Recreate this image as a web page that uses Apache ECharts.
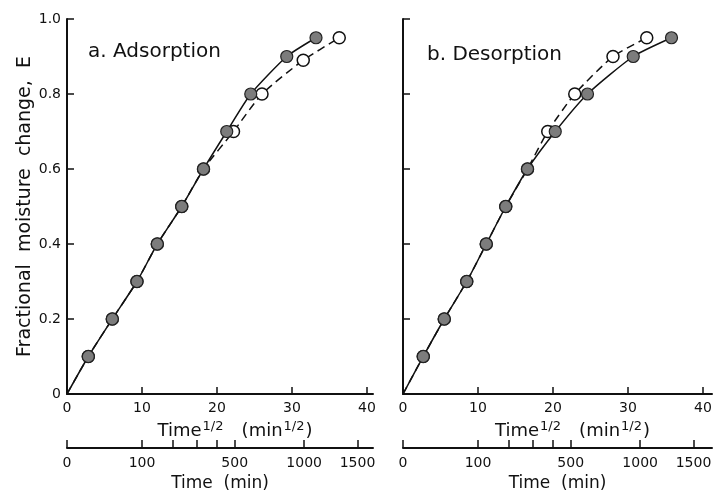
<!DOCTYPE html>
<html><head><meta charset="utf-8">
<script src="https://cdn.jsdelivr.net/npm/echarts@6/dist/echarts.min.js"></script>
<style>html,body{margin:0;padding:0;background:#fff}#c{width:719px;height:493px}</style>
</head><body><div id="c"></div>
<script>
// Data (x = Time^1/2 in min^1/2, y = fractional moisture change E)
const adsFilledT = [0, 2.84, 6.04, 9.33, 12.04, 15.3, 18.2, 21.3, 24.5, 29.3, 33.2];
const adsFilledE = [0, 0.10, 0.20, 0.30, 0.40, 0.50, 0.60, 0.70, 0.80, 0.90, 0.95];
const adsOpenT = [0, 2.84, 6.04, 9.33, 12.04, 15.3, 18.2, 22.2, 26.0, 31.5, 36.3];
const adsOpenE = [0, 0.10, 0.20, 0.30, 0.40, 0.50, 0.60, 0.70, 0.80, 0.89, 0.95];
const desFilledT = [0, 2.7, 5.5, 8.5, 11.1, 13.7, 16.6, 20.3, 24.6, 30.7, 35.8];
const desFilledE = [0, 0.10, 0.20, 0.30, 0.40, 0.50, 0.60, 0.70, 0.80, 0.90, 0.95];
const desOpenT = [0, 2.7, 5.5, 8.5, 11.1, 13.7, 16.6, 19.3, 22.9, 28.0, 32.5];
const desOpenE = [0, 0.10, 0.20, 0.30, 0.40, 0.50, 0.60, 0.70, 0.80, 0.90, 0.95];
// Axis ticks
const sqrtTicks = [0, 10, 20, 30, 40];
const timeLabelVals = [0, 100, 500, 1000, 1500];
const timeTickVals = [0, 100, 200, 300, 400, 500, 1000, 1500];

const FONT = 'DejaVu Sans';
const chart = echarts.init(document.getElementById('c'));

function pts(T, E) {
  return T.map((t, i) => i === 0 ? { value: [t, E[i]], symbol: 'none' } : [t, E[i]]);
}
const lineStyleAxis = { color: '#111', width: 2 };
function primaryX(gi, max) {
  return {
    type: 'value', gridIndex: gi, min: 0, max: max, position: 'bottom',
    axisLine: { show: true, onZero: false, lineStyle: lineStyleAxis },
    axisTick: { show: true, inside: true, length: 7, customValues: sqrtTicks, lineStyle: { color: '#111', width: 1.5 } },
    axisLabel: { customValues: sqrtTicks, color: '#111', fontSize: 14, fontFamily: FONT, margin: 7 },
    splitLine: { show: false },
    name: '{a|Time}{s|1/2}{a|   (min}{s|1/2}{a|)}', nameLocation: 'middle', nameGap: 23,
    nameTextStyle: { padding: [0, 0, 0, 30], rich: {
      a: { fontSize: 18, fontFamily: FONT, color: '#111' },
      s: { fontSize: 13, fontFamily: FONT, color: '#111', padding: [0, 1, 9, 1] }
    } }
  };
}
function secondaryX(gi, max) {
  const tv = timeTickVals.map(v => Math.sqrt(v));
  const lv = timeLabelVals.map(v => Math.sqrt(v));
  return {
    type: 'value', gridIndex: gi, min: 0, max: max, position: 'bottom', offset: 54,
    axisLine: { show: true, onZero: false, lineStyle: lineStyleAxis },
    axisTick: { show: true, inside: true, length: 8, customValues: tv, lineStyle: { color: '#111', width: 1.5 } },
    axisLabel: { customValues: lv, color: '#111', fontSize: 14, fontFamily: FONT, margin: 8,
      formatter: v => String(Math.round(v * v)) },
    splitLine: { show: false },
    name: 'Time  (min)', nameLocation: 'middle', nameGap: 24,
    nameTextStyle: { fontSize: 17, fontFamily: FONT, color: '#111' }
  };
}
function yAx(gi, labels) {
  return {
    type: 'value', gridIndex: gi, min: 0, max: 1, interval: 0.2,
    axisLine: { show: true, lineStyle: lineStyleAxis },
    axisTick: { show: true, inside: true, length: 7, lineStyle: { color: '#111', width: 1.5 } },
    axisLabel: { show: labels, color: '#111', fontSize: 14, fontFamily: FONT, margin: 6,
      formatter: v => v === 0 ? '0' : v.toFixed(1) },
    splitLine: { show: false },
    name: labels ? 'Fractional  moisture  change,  E' : '', nameLocation: 'middle', nameGap: 25,
    nameTextStyle: { fontSize: 19, fontFamily: FONT, color: '#111' }
  };
}
function filledSeries(xi, yi, T, E) {
  return { type: 'line', xAxisIndex: xi, yAxisIndex: yi, data: pts(T, E), smooth: 0.2,
    symbol: 'circle', symbolSize: 12, z: 5,
    lineStyle: { color: '#111', width: 1.5 },
    itemStyle: { color: '#7c7c7c', borderColor: '#222', borderWidth: 1.2 } };
}
function openSeries(xi, yi, T, E) {
  return { type: 'line', xAxisIndex: xi, yAxisIndex: yi, data: pts(T, E), smooth: 0.2,
    symbol: 'circle', symbolSize: 12, z: 3,
    lineStyle: { color: '#111', width: 1.5, type: [8, 5] },
    itemStyle: { color: '#fff', borderColor: '#111', borderWidth: 1.5 } };
}

chart.setOption({
  animation: false,
  backgroundColor: '#fff',
  title: [
    { text: 'a. Adsorption', left: 83, top: 37, textStyle: { fontSize: 20, fontWeight: 'normal', fontFamily: FONT, color: '#111' } },
    { text: 'b. Desorption', left: 422, top: 40, textStyle: { fontSize: 20, fontWeight: 'normal', fontFamily: FONT, color: '#111' } }
  ],
  grid: [
    { left: 67, top: 19, width: 306, height: 375, outerBoundsMode: 'none', containLabel: false },
    { left: 403, top: 19, width: 309, height: 375, outerBoundsMode: 'none', containLabel: false }
  ],
  xAxis: [primaryX(0, 40.8), primaryX(1, 41.2), secondaryX(0, 40.8), secondaryX(1, 41.2)],
  yAxis: [yAx(0, true), yAx(1, false)],
  series: [
    openSeries(0, 0, adsOpenT, adsOpenE),
    filledSeries(0, 0, adsFilledT, adsFilledE),
    openSeries(1, 1, desOpenT, desOpenE),
    filledSeries(1, 1, desFilledT, desFilledE)
  ]
});
</script></body></html>
